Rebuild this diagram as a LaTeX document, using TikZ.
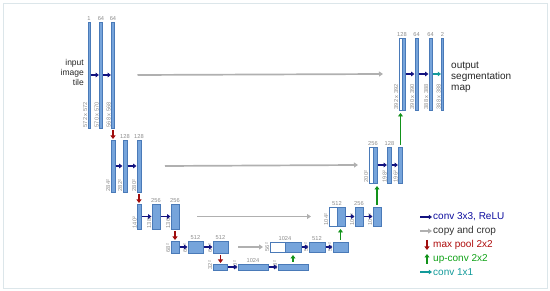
\documentclass[tikz,border=0pt]{standalone}
\usepackage{fontspec}
\setmainfont{Liberation Sans}
\usetikzlibrary{arrows.meta,calc}
\definecolor{barfill}{HTML}{76A4DB}
\definecolor{barline}{HTML}{4A7AB8}
\definecolor{convcol}{HTML}{12127F}
\definecolor{copycol}{HTML}{B0B0B0}
\definecolor{poolcol}{HTML}{A00D0D}
\definecolor{upcol}{HTML}{12921A}
\definecolor{onecol}{HTML}{129A9A}
\definecolor{dimcol}{HTML}{8C8C8C}
\definecolor{framecol}{HTML}{DCE6EA}
\begin{document}
\begin{tikzpicture}[x=1pt,y=-1pt,
  bar/.style={draw=barline, fill=barfill, line width=0.5pt, inner sep=0pt, outer sep=0pt},
  wbar/.style={draw=barline, fill=white, line width=0.5pt, inner sep=0pt, outer sep=0pt},
  dim/.style={font=\fontsize{5.7}{6}\selectfont, text=dimcol, inner sep=0.6pt},
  ch/.style={font=\fontsize{5.7}{6}\selectfont, text=dimcol, inner sep=0.8pt, anchor=south},
  conv/.style={draw=convcol, line width=1.3pt, -{Triangle[length=3.2pt,width=4.5pt]}},
  one/.style={draw=onecol, line width=1.3pt, -{Triangle[length=3.2pt,width=4.5pt]}},
  copyarr/.style={draw=copycol, line width=1.7pt, -{Triangle[length=4pt,width=5pt]}},
  pool/.style={draw=poolcol, line width=1.6pt, -{Triangle[length=3.5pt,width=5pt]}},
  up/.style={draw=upcol, line width=1.6pt, -{Triangle[length=3.5pt,width=5pt]}},
  side/.style={font=\fontsize{8.5}{10}\selectfont, text=black!85, inner sep=0pt, align=right},
  sider/.style={font=\fontsize{10}{11}\selectfont, text=black!85, inner sep=0pt, align=left},
  legtext/.style={font=\fontsize{10}{11}\selectfont, anchor=west, inner sep=0pt}
]
\useasboundingbox (0,0) rectangle (550,291);
\draw[framecol, line width=0.8pt] (3,3) rectangle (547,288);

% ---------- left side ----------
\node[bar, minimum width=1.8pt, minimum height=106pt] (L1a) at (89,75) {};
\node[bar, minimum width=3pt, minimum height=106pt] (L1b) at (101,75) {};
\node[bar, minimum width=3pt, minimum height=106pt] (L1c) at (113,75) {};

\node[bar, minimum width=4pt, minimum height=52pt] (L2a) at (113,166) {};
\node[bar, minimum width=4pt, minimum height=52pt] (L2b) at (125,166) {};
\node[bar, minimum width=4pt, minimum height=52pt] (L2c) at (139,166) {};

\node[bar, minimum width=4pt, minimum height=25pt] (L3a) at (139.5,216.5) {};
\node[bar, minimum width=8pt, minimum height=25pt] (L3b) at (156,216.5) {};
\node[bar, minimum width=8pt, minimum height=25pt] (L3c) at (175,216.5) {};

\node[bar, minimum width=8pt, minimum height=12pt] (L4a) at (175,247) {};
\node[bar, minimum width=15pt, minimum height=12pt] (L4b) at (195.5,247) {};
\node[bar, minimum width=15pt, minimum height=12pt] (L4c) at (220.5,247) {};

\node[bar, minimum width=14pt, minimum height=6pt] (L5a) at (220,267) {};
\node[bar, minimum width=30pt, minimum height=6pt] (L5b) at (253,267) {};
\node[bar, minimum width=30pt, minimum height=6pt] (L5c) at (293,267) {};

% ---------- right side ----------
\node[wbar, minimum width=15pt, minimum height=10pt] (R4w) at (277.5,247) {};
\node[bar, minimum width=16pt, minimum height=10pt] (R4a) at (293,247) {};
\node[bar, minimum width=16pt, minimum height=10pt] (R4b) at (317,247) {};
\node[bar, minimum width=15pt, minimum height=10pt] (R4c) at (340.5,247) {};

\node[wbar, minimum width=8pt, minimum height=19pt] (R3w) at (333,216.5) {};
\node[bar, minimum width=8pt, minimum height=19pt] (R3a) at (341,216.5) {};
\node[bar, minimum width=8pt, minimum height=19pt] (R3b) at (359,216.5) {};
\node[bar, minimum width=8pt, minimum height=19pt] (R3c) at (377,216.5) {};

\node[wbar, minimum width=4pt, minimum height=36pt] (R2w) at (371,165) {};
\node[bar, minimum width=4pt, minimum height=36pt] (R2a) at (375,165) {};
\node[bar, minimum width=4pt, minimum height=36pt] (R2b) at (389.5,165) {};
\node[bar, minimum width=4pt, minimum height=36pt] (R2c) at (400.5,165) {};

\node[wbar, minimum width=3pt, minimum height=72pt] (R1w) at (400.5,74) {};
\node[bar, minimum width=3pt, minimum height=72pt] (R1a) at (403.5,74) {};
\node[bar, minimum width=3pt, minimum height=72pt] (R1b) at (416.5,74) {};
\node[bar, minimum width=3pt, minimum height=72pt] (R1c) at (430.5,74) {};
\node[bar, minimum width=1.8pt, minimum height=72pt] (R1d) at (442.5,74) {};

% ---------- channel labels ----------
\node[ch] at (L1a.north) {1};
\node[ch] at (L1b.north) {64};
\node[ch] at (L1c.north) {64};
\node[ch] at (L2b.north) {128};
\node[ch] at (L2c.north) {128};
\node[ch] at (L3b.north) {256};
\node[ch] at (L3c.north) {256};
\node[ch] at (L4b.north) {512};
\node[ch] at (L4c.north) {512};
\node[ch] at (L5b.north) {1024};
\node[ch] at (R4w.north east) {1024};
\node[ch] at (R4b.north) {512};
\node[ch] at (R3w.north east) {512};
\node[ch] at (R3b.north) {256};
\node[ch] at (R2w.north east) {256};
\node[ch] at (R2b.north) {128};
\node[ch] at (R1w.north east) {128};
\node[ch] at (R1b.north) {64};
\node[ch] at (R1c.north) {64};
\node[ch] at (R1d.north) {2};

% ---------- size labels ----------
\foreach \n/\t in {L1a/572 x 572, L1b/570 x 570, L1c/568 x 568,
  L2a/284², L2b/282², L2c/280², L3a/140², L3b/138², L3c/136²,
  L4a/68², L4b/66², L4c/64², L5a/32², L5b/30², L5c/28²,
  R4w/56², R4b/54², R4c/52², R3w/104², R3b/102², R3c/100²,
  R2w/200², R2b/198², R2c/196², R1w/392 x 392, R1b/390 x 390,
  R1c/388 x 388, R1d/388 x 388}
  \node[dim, rotate=90, anchor=south west] at (\n.south west) {\t};

% ---------- conv arrows ----------
\foreach \a/\b in {L1a/L1b, L1b/L1c, L2a/L2b, L2b/L2c, L3a/L3b, L3b/L3c,
  L4a/L4b, L4b/L4c, L5a/L5b, L5b/L5c, R4a/R4b, R4b/R4c, R3a/R3b, R3b/R3c,
  R2a/R2b, R2b/R2c, R1a/R1b, R1b/R1c}
  \draw[conv, shorten <=0.6pt, shorten >=0.6pt] (\a.east) -- (\b.west);
\draw[one, shorten <=0.6pt, shorten >=0.6pt] (R1c.east) -- (R1d.west);

% ---------- copy and crop ----------
\draw[copyarr] ($(L1c.east)+(23,0)$) -- ($(R1w.west)+(-16,0)$);
\draw[copyarr] ($(L2c.east)+(24,0)$) -- ($(R2w.west)+(-11,0)$);
\draw[copyarr] ($(L3c.east)+(18,0)$) -- ($(R3w.west)+(-18,0)$);
\draw[copyarr] ($(L4c.east)+(10,0)$) -- ($(R4w.west)+(-7,0)$);

% ---------- max pool ----------
\foreach \a/\b in {L1c/L2a, L2c/L3a, L3c/L4a, L4c/L5a}
  \draw[pool, shorten <=2pt, shorten >=1pt] (\a.south) -- (\a.south |- \b.north);

% ---------- up-conv ----------
\foreach \a/\b in {L5c/R4a, R4c/R3a, R3c/R2a, R2c/R1a}
  \draw[up, shorten <=2pt, shorten >=3pt] (\a.north) -- (\a.north |- \b.south);

% ---------- side texts ----------
\node[side, anchor=east] (intext) at (84,72) {input\\image\\tile};
\node[sider, anchor=west] (outtext) at (451,77) {output\\segmentation\\map};

% ---------- legend ----------
\coordinate (g1) at (420,217);
\coordinate (g2) at (420,231);
\coordinate (g3) at (427,240);
\coordinate (g4) at (427,264);
\coordinate (g5) at (420,272);
\draw[conv] (g1) -- ++(12,0);
\node[legtext, text=convcol!75!blue] (t1) at (433,217) {conv 3x3, ReLU};
\draw[copyarr, line width=1.3pt] (g2) -- ++(12,0);
\node[legtext, text=black!80] (t2) at (433,231) {copy and crop};
\draw[pool, line width=1.3pt] (g3) -- ++(0,10);
\node[legtext, text=poolcol!85!red] (t3) at (433,245) {max pool 2x2};
\draw[up, line width=1.3pt] (g4) -- ++(0,-10);
\node[legtext, text=upcol!85!green] (t4) at (433,259) {up-conv 2x2};
\draw[one] (g5) -- ++(12,0);
\node[legtext, text=onecol] (t5) at (433,272) {conv 1x1};
\end{tikzpicture}
\end{document}
